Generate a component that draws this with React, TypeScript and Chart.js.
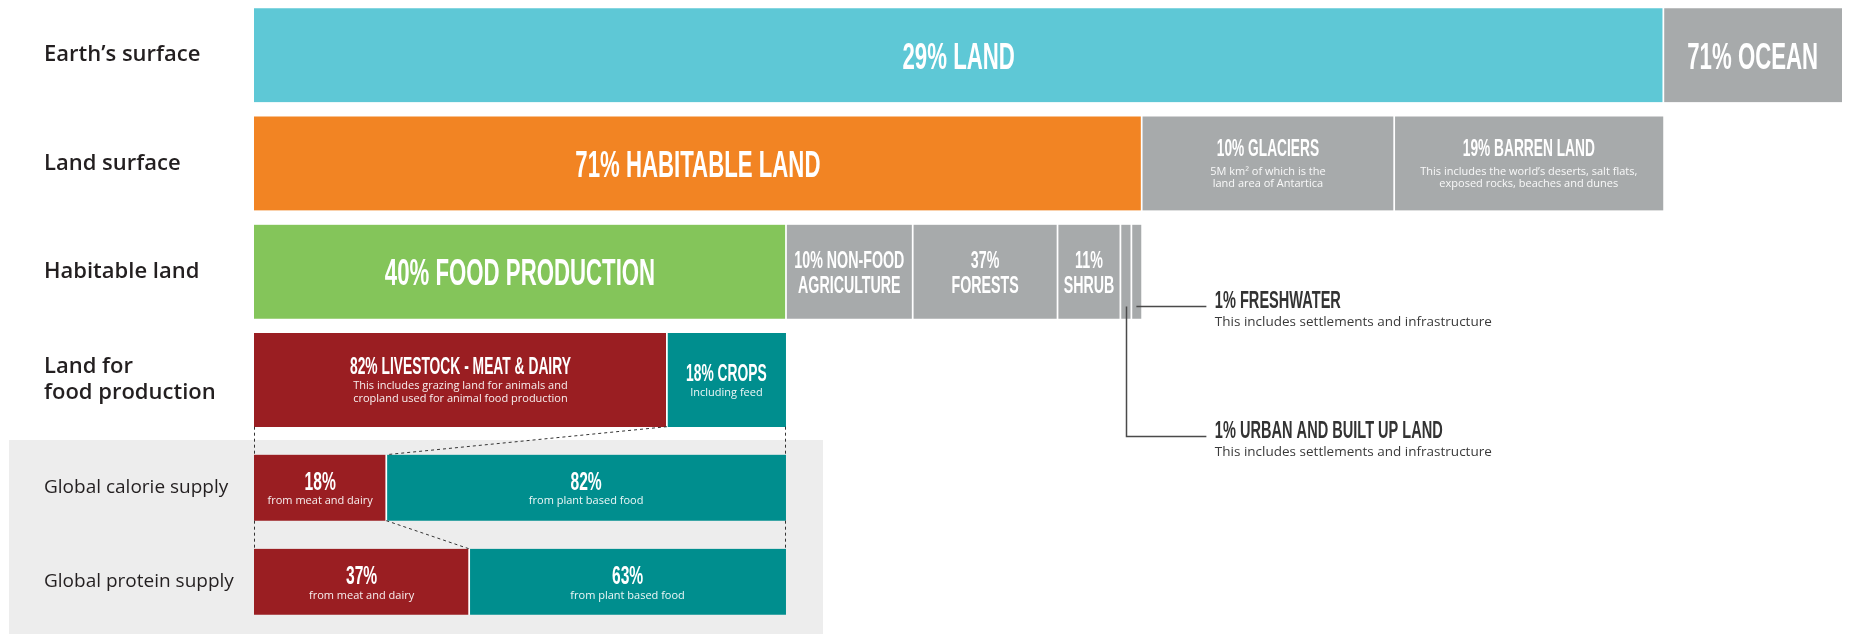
import React, { useEffect, useRef } from "react";
import { Chart, registerables } from "chart.js";

Chart.register(...registerables);

// ---------- Row labels ----------
const landRows: any[] = ["Earth’s surface", "Land surface", "Habitable land", ["Land for", "food production"]];
const supplyRows: string[] = ["Global calorie supply", "Global protein supply"];

// ---------- Segment lengths as drawn (share of the full Earth bar, %) ----------
const earthSurface = [88.75, 11.25];
const landSurface = [55.9, 15.9, 16.95];
const habitableLand = [33.5, 7.98, 9.12, 3.96, 0.69, 0.63];
const foodLand = [26.0, 7.5];
const calorieSupply = [8.33, 25.17];
const proteinSupply = [13.55, 19.95];

// ---------- Segment texts ----------
const earthTitles = [["29% LAND"], ["71% OCEAN"]];
const earthNotes: string[][] = [[], []];
const landTitles = [["71% HABITABLE LAND"], ["10% GLACIERS"], ["19% BARREN LAND"]];
const landNotes = [
  [],
  ["5M km² of which is the", "land area of Antartica"],
  ["This includes the world’s deserts, salt flats,", "exposed rocks, beaches and dunes"],
];
const habitableTitles = [["40% FOOD PRODUCTION"], ["10% NON-FOOD", "AGRICULTURE"], ["37%", "FORESTS"], ["11%", "SHRUB"], [], []];
const habitableNotes: string[][] = [[], [], [], [], [], []];
const foodTitles = [["82% LIVESTOCK - MEAT & DAIRY"], ["18% CROPS"]];
const foodNotes = [["This includes grazing land for animals and", "cropland used for animal food production"], ["Including feed"]];
const calorieTitles = [["18%"], ["82%"]];
const proteinTitles = [["37%"], ["63%"]];
const supplyNotes = [["from meat and dairy"], ["from plant based food"]];
const calloutTitles = ["1% FRESHWATER", "1% URBAN AND BUILT UP LAND"];
const calloutNotes = ["This includes settlements and infrastructure", "This includes settlements and infrastructure"];

// ---------- Styles ----------
const CYAN = "#5ec8d6";
const GRAY = "#a7aaab";
const ORANGE = "#f28423";
const GREEN = "#84c55a";
const RED = "#9a1e22";
const TEAL = "#008e8e";
const COND = '"Liberation Sans Narrow", "Liberation Sans", Arial, sans-serif';
const SANS = '"Open Sans", "Noto Sans", sans-serif';
const BIG_CAP = 27;

const topColors = [[CYAN, GRAY], [ORANGE, GRAY, GRAY], [GREEN, GRAY, GRAY, GRAY, GRAY, GRAY], [RED, TEAL]];
const topText = [
  { cap: 27, line: 0, t2n: 0, noteLine: 0 },
  { cap: 16.7, line: 0, t2n: 19, noteLine: 11.7 },
  { cap: 17.3, line: 25, t2n: 0, noteLine: 0 },
  { cap: 16.8, line: 0, t2n: 15, noteLine: 13.4 },
];
const bottomColors = [[RED, TEAL], [RED, TEAL]];
const bottomText = [
  { cap: 19, line: 0, t2n: 14.5, noteLine: 13 },
  { cap: 19, line: 0, t2n: 14.5, noteLine: 13 },
];

let squeezeCache = 0;
function getSqueeze(ctx: CanvasRenderingContext2D) {
  if (!squeezeCache) {
    ctx.save();
    ctx.font = `bold 100px ${COND}`;
    const w = ctx.measureText("29% LAND").width;
    ctx.restore();
    squeezeCache = Math.min(1, 298 / w);
  }
  return squeezeCache;
}

function drawCond(ctx: any, text: string, x: number, y: number, cap: number, color: string, align: any) {
  const sq = getSqueeze(ctx);
  ctx.save();
  ctx.font = `bold ${cap / 0.716}px ${COND}`;
  ctx.fillStyle = color;
  ctx.textAlign = align;
  ctx.textBaseline = "alphabetic";
  ctx.translate(x, y);
  ctx.scale(sq, 1);
  ctx.fillText(text, 0, 0);
  ctx.restore();
}

function drawBlock(ctx: any, cx: number, cy: number, titles: string[], notes: string[], st: any, big: boolean) {
  const cap = big ? BIG_CAP : st.cap;
  const tl = titles.length;
  const nl = notes.length;
  if (!tl) return;
  const h = cap + (tl - 1) * st.line + (nl ? st.t2n + (nl - 1) * st.noteLine : 0);
  const base = cy - h / 2 + cap;
  titles.forEach((t, i) => drawCond(ctx, t, cx, base + i * st.line, cap, "#ffffff", "center"));
  ctx.save();
  ctx.font = `400 11px ${SANS}`;
  ctx.fillStyle = "rgba(255,255,255,0.93)";
  ctx.textAlign = "center";
  ctx.textBaseline = "alphabetic";
  const nb = base + (tl - 1) * st.line + st.t2n;
  notes.forEach((n, i) => ctx.fillText(n, cx, nb + i * st.noteLine));
  ctx.restore();
}

function buildDatasets(rowCount: number, values: number[][], colors: string[][], titles: string[][][], notes: string[][][], thickness: number) {
  const out: any[] = [];
  values.forEach((rowVals, r) => {
    rowVals.forEach((v, i) => {
      const first = i === 0;
      const last = i === rowVals.length - 1;
      out.push({
        label: (titles[r][i] || []).join(" ") || "segment",
        data: Array.from({ length: rowCount }, (_, k) => (k === r ? v : null)),
        backgroundColor: colors[r][i],
        borderColor: "#ffffff",
        borderWidth: { left: first ? 0 : 1.2, right: last ? 0 : 1.2, top: 0, bottom: 0 },
        borderSkipped: false,
        barThickness: thickness,
        _row: r,
        _titles: titles[r][i] || [],
        _notes: notes[r][i] || [],
      });
    });
  });
  return out;
}

function makeTextPlugin(styles: any[], allowBig: boolean) {
  return {
    id: "segText",
    afterDatasetsDraw(chart: any) {
      const ctx = chart.ctx;
      chart.data.datasets.forEach((ds: any, i: number) => {
        const el = chart.getDatasetMeta(i).data[ds._row];
        if (!el) return;
        const p = el.getProps(["x", "y", "base", "height"], true);
        const cx = (p.x + p.base) / 2;
        const big = allowBig && ds._titles.length === 1 && ds._notes.length === 0;
        drawBlock(ctx, cx, p.y, ds._titles, ds._notes, styles[ds._row], big);
      });
    },
  };
}

const calloutPlugin = {
  id: "callouts",
  afterDatasetsDraw(chart: any) {
    const ctx = chart.ctx;
    const dsList = chart.data.datasets;
    const hab = dsList.map((d: any, i: number) => ({ d, i })).filter((o: any) => o._row === undefined ? o.d._row === 2 : false);
    if (hab.length < 6) return;
    const urban = chart.getDatasetMeta(hab[4].i).data[2].getProps(["x", "y", "base", "height"], true);
    const fresh = chart.getDatasetMeta(hab[5].i).data[2].getProps(["x", "y", "base", "height"], true);
    const y0 = Math.round(fresh.y + fresh.height / 2 - 13) + 0.5;
    const xEnd = Math.max(fresh.x, fresh.base) + 65;
    const ux = Math.round((urban.x + urban.base) / 2) + 0.5;
    const fx = (fresh.x + fresh.base) / 2;
    const y1 = y0 + 130;
    ctx.save();
    ctx.strokeStyle = "#4a4a4a";
    ctx.lineWidth = 1.5;
    ctx.beginPath();
    ctx.moveTo(fx, y0);
    ctx.lineTo(xEnd, y0);
    ctx.moveTo(ux, y0);
    ctx.lineTo(ux, y1);
    ctx.lineTo(xEnd, y1);
    ctx.stroke();
    ctx.restore();
    const tx = xEnd + 8.5;
    [y0, y1].forEach((yy, k) => {
      drawCond(ctx, calloutTitles[k], tx, yy + 1, 17.7, "#333333", "left");
      ctx.save();
      ctx.font = `400 13.5px ${SANS}`;
      ctx.fillStyle = "#3a3a3a";
      ctx.textAlign = "left";
      ctx.textBaseline = "alphabetic";
      ctx.fillText(calloutNotes[k], tx, yy + 19);
      ctx.restore();
    });
  },
};

const connectorPlugin = {
  id: "connectors",
  afterDatasetsDraw(chart: any) {
    const ctx = chart.ctx;
    const xs = chart.scales.x;
    const left = Math.round(xs.getPixelForValue(0)) + 0.5;
    const right = Math.round(xs.getPixelForValue(foodLand[0] + foodLand[1])) - 0.5;
    const foodSplit = xs.getPixelForValue(foodLand[0]);
    const topY = chart.chartArea.top - 13.9;
    const cal = chart.getDatasetMeta(0).data[0].getProps(["x", "y", "base", "height"], true);
    const prot = chart.getDatasetMeta(2).data[1].getProps(["x", "y", "base", "height"], true);
    const calTop = cal.y - cal.height / 2;
    const calBottom = cal.y + cal.height / 2;
    const protTop = prot.y - prot.height / 2;
    ctx.save();
    ctx.strokeStyle = "#333333";
    ctx.lineWidth = 1;
    ctx.setLineDash([3, 3]);
    const seg = (a: number, b: number, c: number, d: number) => {
      ctx.beginPath();
      ctx.moveTo(a, b);
      ctx.lineTo(c, d);
      ctx.stroke();
    };
    seg(left, topY, left, calTop);
    seg(right, topY, right, calTop);
    seg(foodSplit, topY, cal.x, calTop);
    seg(left, calBottom, left, protTop);
    seg(right, calBottom, right, protTop);
    seg(cal.x, calBottom, prot.x, protTop);
    ctx.restore();
  },
};

function yAxis(fontSize: number, weight: string) {
  return {
    stacked: true,
    grid: { display: false },
    border: { display: false },
    ticks: {
      crossAlign: "far",
      color: "#231f20",
      font: { family: SANS, size: fontSize, weight: weight, lineHeight: 26 / fontSize },
    },
    afterFit: (s: any) => {
      s.width = 210;
      s.paddingTop = 0;
      s.paddingBottom = 0;
    },
  };
}

export default function App() {
  const topRef = useRef<HTMLCanvasElement>(null);
  const bottomRef = useRef<HTMLCanvasElement>(null);

  useEffect(() => {
    const topChart = new Chart(topRef.current as HTMLCanvasElement, {
      type: "bar",
      data: {
        labels: landRows,
        datasets: buildDatasets(
          landRows.length,
          [earthSurface, landSurface, habitableLand, foodLand],
          topColors,
          [earthTitles, landTitles, habitableTitles, foodTitles],
          [earthNotes, landNotes, habitableNotes, foodNotes],
          94
        ),
      },
      options: {
        indexAxis: "y",
        responsive: false,
        animation: false,
        events: [],
        layout: { padding: { left: 44, right: 9, top: 1, bottom: 200 } },
        plugins: { legend: { display: false }, tooltip: { enabled: false }, title: { display: false } },
        scales: {
          x: { type: "linear", min: 0, max: 100, stacked: true, display: false },
          y: yAxis(22, "600"),
        },
      } as any,
      plugins: [makeTextPlugin(topText, true), calloutPlugin],
    });

    const bottomChart = new Chart(bottomRef.current as HTMLCanvasElement, {
      type: "bar",
      data: {
        labels: supplyRows,
        datasets: buildDatasets(
          supplyRows.length,
          [calorieSupply, proteinSupply],
          bottomColors,
          [calorieTitles, proteinTitles],
          [supplyNotes, supplyNotes],
          66
        ),
      },
      options: {
        indexAxis: "y",
        responsive: false,
        animation: false,
        events: [],
        layout: { padding: { left: 44, right: 9, top: 20.6, bottom: 5.1 } },
        plugins: { legend: { display: false }, tooltip: { enabled: false }, title: { display: false } },
        scales: {
          x: { type: "linear", min: 0, max: 100, stacked: true, display: false },
          y: yAxis(19, "400"),
        },
      } as any,
      plugins: [makeTextPlugin(bottomText, false), connectorPlugin],
    });

    return () => {
      topChart.destroy();
      bottomChart.destroy();
    };
  }, []);

  return (
    <div style={{ position: "absolute", left: 0, top: 0, width: 1851, height: 634, background: "#ffffff", overflow: "hidden" }}>
      <div style={{ position: "absolute", left: 9, top: 440, width: 814, height: 194, background: "#ededed" }} />
      <canvas ref={topRef} width={1851} height={634} style={{ position: "absolute", left: 0, top: 0 }} />
      <canvas ref={bottomRef} width={1851} height={214} style={{ position: "absolute", left: 0, top: 420 }} />
    </div>
  );
}
